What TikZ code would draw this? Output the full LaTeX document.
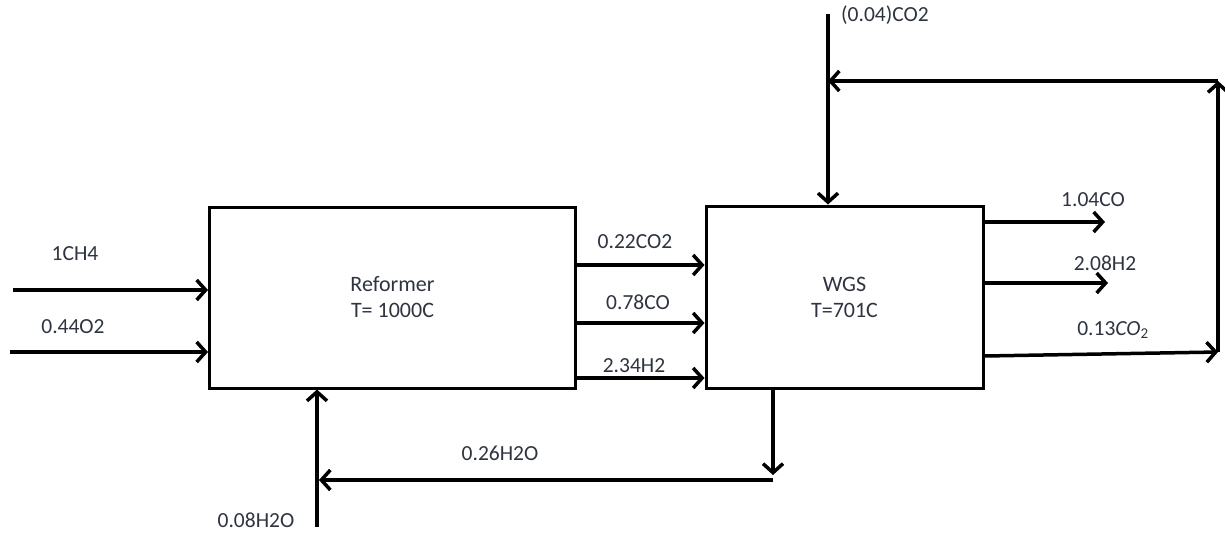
\documentclass[tikz,border=0pt]{standalone}
\usepackage{fontspec}
\setmainfont{Carlito}
\usetikzlibrary{arrows.meta,calc}
\definecolor{txt}{HTML}{2E3440}
\tikzset{
  flow/.style={line width=3.5pt, -{Straight Barb[length=9pt,width=20pt,line width=3.5pt]}},
  unit/.style={draw, line width=3pt, inner sep=0pt, align=center, font=\fontsize{22}{26}\selectfont, text=txt},
  lbl/.style={font=\fontsize{21.5}{24}\selectfont, text=txt, inner sep=1pt}
}
\begin{document}
\begin{tikzpicture}[x=1pt,y=-1pt]
\useasboundingbox (0,0) rectangle (1225,533);
\fill[white] (0,0) rectangle (1225,533);
% units
\node[unit, minimum width=366pt, minimum height=181pt] (ref) at (392.5,297.5) {Reformer\\T= 1000C};
\node[unit, minimum width=277pt, minimum height=182pt] (wgs) at (844.5,297) {WGS\\T=701C};
% free ends
\coordinate (inA) at (13,290);
\coordinate (inB) at (10,352);
\coordinate (outA) at (1105,222);
\coordinate (outB) at (1108,283);
\coordinate (rc) at (1218,352);
\coordinate (rt) at (1218,81);
\coordinate (co2in) at (828,14);
\coordinate (bd) at (773,480);
\coordinate (bl) at (319,480);
\coordinate (h2oin) at (317,527);
% inputs
\draw[flow] (inA) -- (inA -| ref.west);
\draw[flow] (inB) -- (inB -| ref.west);
\node[lbl] (l1) at (75,254) {1CH4};
\node[lbl] (l2) at (73,327) {0.44O2};
% between units
\coordinate (m1) at (0,265);
\coordinate (m2) at (0,323);
\coordinate (m3) at (0,378);
\draw[flow] (m1 -| ref.east) -- (m1 -| wgs.west);
\draw[flow] (m2 -| ref.east) -- (m2 -| wgs.west);
\draw[flow] (m3 -| ref.east) -- (m3 -| wgs.west);
\node[lbl] (l3) at (635,242) {0.22CO2};
\node[lbl] (l4) at (638,302) {0.78CO};
\node[lbl] (l5) at (634,366) {2.34H2};
% outputs
\draw[flow] (outA -| wgs.east) -- (outA);
\draw[flow] (outB -| wgs.east) -- (outB);
\draw[flow] ($(wgs.east |- rc)+(0,4)$) -- (rc);
\node[lbl] (l6) at (1093,200) {1.04CO};
\node[lbl] (l7) at (1105,263) {2.08H2};
\node[lbl] (l8) at (1113,330) {0.13\textit{CO}\textsubscript{2}};
% recycle CO2
\draw[flow] (rc) -- (rt);
\draw[flow] (rt) -- (rt -| co2in);
\draw[flow] (co2in) -- (co2in |- wgs.north);
\node[lbl] (l9) at (885,15) {(0.04)CO2};
% water loop
\draw[flow] (wgs.south -| bd) -- ($(bd)+(0,-5)$);
\draw[flow] (bd) -- (bl);
\draw[flow] (h2oin) -- (h2oin |- ref.south);
\node[lbl] (l10) at (500,453) {0.26H2O};
\node[lbl] (l11) at (256,520) {0.08H2O};
\end{tikzpicture}
\end{document}
